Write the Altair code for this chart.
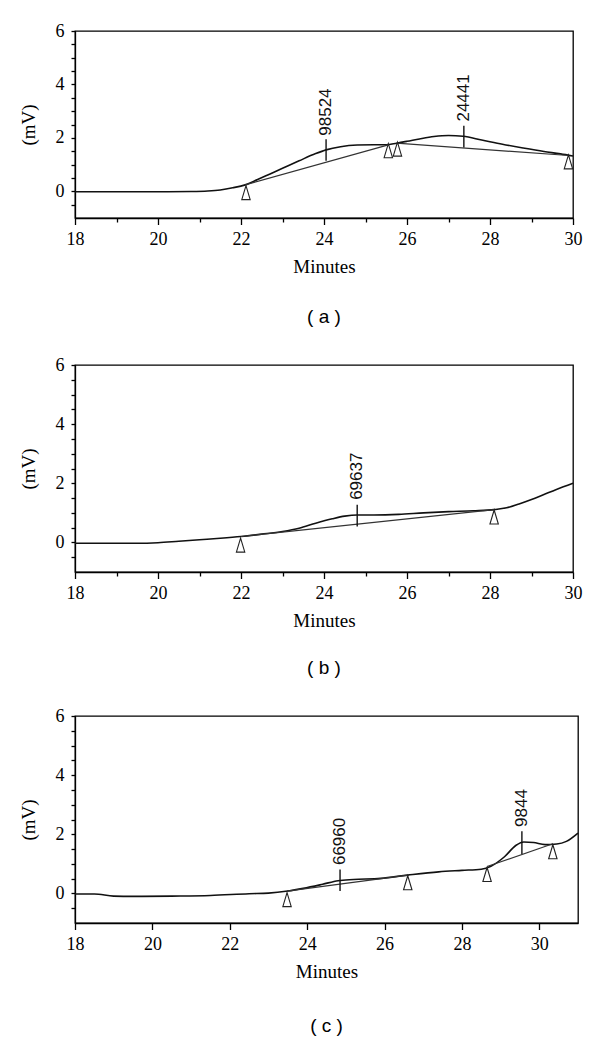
import altair as alt
import pandas as pd

SERIF = "Liberation Serif"
SANS = "Liberation Sans"

# ---------------- panel (a) ----------------
a_time = [18.0, 19.0, 20.0, 20.8, 21.2, 21.5, 21.8, 22.1, 22.4, 22.7, 23.0, 23.4, 23.8, 24.05,
          24.4, 24.8, 25.2, 25.5, 25.75, 26.0, 26.3, 26.65, 27.0, 27.35, 27.8, 28.3, 28.8, 29.3, 29.7, 30.0]
a_signal = [-0.02, -0.02, -0.02, -0.01, 0.01, 0.05, 0.13, 0.24, 0.44, 0.65, 0.86, 1.14, 1.41, 1.55,
            1.67, 1.73, 1.74, 1.74, 1.80, 1.87, 1.96, 2.05, 2.09, 2.06, 1.92, 1.76, 1.62, 1.49, 1.40, 1.32]
a_base_t1 = [22.1, 25.75]
a_base_y1 = [0.24, 1.80]
a_base_t2 = [25.55, 29.9]
a_base_y2 = [1.74, 1.34]
a_tri_t = [22.12, 25.55, 25.77, 29.89]
a_tri_y = [-0.05, 1.52, 1.58, 1.10]
a_pk_t = [24.05, 27.37]
a_pk_lo = [1.14, 1.64]
a_pk_hi = [1.95, 2.45]
a_pk_ty = [2.08, 2.61]
a_pk_lab = ["98524", "24441"]

# ---------------- panel (b) ----------------
b_time = [18.0, 19.0, 19.5, 20.0, 20.5, 21.0, 21.5, 22.0, 22.5, 23.0, 23.4, 23.8, 24.2, 24.5, 24.8,
          25.2, 25.8, 26.4, 27.0, 27.6, 28.1, 28.4, 28.7, 29.0, 29.3, 29.6, 30.0]
b_signal = [-0.03, -0.03, -0.03, -0.01, 0.04, 0.09, 0.14, 0.20, 0.28, 0.37, 0.48, 0.65, 0.80, 0.89, 0.93,
            0.93, 0.95, 1.00, 1.04, 1.07, 1.11, 1.17, 1.30, 1.45, 1.62, 1.79, 2.00]
b_base_t1 = [22.0]
b_base_y1 = [0.20]
b_base_t2 = [28.1]
b_base_y2 = [1.11]
b_tri_t = [21.99, 28.1]
b_tri_y = [-0.09, 0.86]
b_pk_t = [24.8]
b_pk_lo = [0.54]
b_pk_hi = [1.27]
b_pk_ty = [1.44]
b_pk_lab = ["69637"]

# ---------------- panel (c) ----------------
c_time = [18.0, 18.5, 19.0, 19.5, 20.5, 21.5, 22.5, 23.0, 23.5, 23.9, 24.4, 24.8, 25.2, 25.9, 26.6,
          27.4, 28.0, 28.5, 28.75, 29.1, 29.4, 29.6, 29.85, 30.15, 30.45, 30.7, 31.0]
c_signal = [-0.02, -0.02, -0.09, -0.10, -0.09, -0.07, -0.01, 0.01, 0.08, 0.17, 0.31, 0.43, 0.47, 0.51, 0.62,
            0.73, 0.78, 0.82, 0.92, 1.24, 1.63, 1.74, 1.72, 1.65, 1.67, 1.76, 2.04]
c_base_t1 = [23.48, 28.65]
c_base_y1 = [0.08, 0.91]
c_base_t2 = [26.6, 30.35]
c_base_y2 = [0.62, 1.68]
c_tri_t = [23.48, 26.6, 28.65, 30.35]
c_tri_y = [-0.21, 0.36, 0.64, 1.41]
c_pk_t = [24.85, 29.55]
c_pk_lo = [0.08, 1.33]
c_pk_hi = [0.81, 2.10]
c_pk_ty = [0.96, 2.25]
c_pk_lab = ["66960", "9844"]

# ---------------- axis ticks ----------------
x_ticks_30 = [18, 18.5, 19, 19.5, 20, 20.5, 21, 21.5, 22, 22.5, 23, 23.5, 24, 24.5, 25, 25.5,
              26, 26.5, 27, 27.5, 28, 28.5, 29, 29.5, 30]
x_ticks_31 = x_ticks_30 + [30.5, 31]
y_ticks = [-0.5, 0, 0.5, 1, 1.5, 2, 2.5, 3, 3.5, 4, 4.5, 5, 5.5, 6]

TRI = "M0,-1L0.6,1L-0.6,1Z"
EVEN = "datum.value % 2 === 0"


def panel(time, signal, bt1, by1, bt2, by2, tt, ty, pt, plo, phi, pty, plab,
          xmax, xticks, w, h, label, title_offset):
    xs = alt.Scale(domain=[18, xmax], nice=False, zero=False)
    ys = alt.Scale(domain=[-1, 6], nice=False, zero=False)
    xaxis = alt.Axis(values=xticks, labelExpr=EVEN + " ? '' + datum.value : ''",
                     title="Minutes", tickSize={"condition": {"test": EVEN, "value": 6.5}, "value": 4},
                     labelFont=SERIF, labelFontSize=18, titleFont=SERIF, titleFontSize=19,
                     labelPadding=6, titlePadding=9, labelFlush=False, labelOverlap=False)
    yaxis = alt.Axis(values=y_ticks, labelExpr=EVEN + " ? '' + datum.value : ''",
                     title="(mV)", tickSize=4, tickCount=len(y_ticks),
                     labelFont=SERIF, labelFontSize=18, titleFont=SERIF, titleFontSize=19,
                     labelPadding=7, titlePadding=17, labelFlush=False, labelOverlap=False)

    curve = pd.DataFrame({"t": time, "v": signal})
    base = pd.DataFrame({"t": bt1, "v": by1, "t2": bt2, "v2": by2})
    tri = pd.DataFrame({"t": tt, "v": ty})
    pk = pd.DataFrame({"t": pt, "v": plo, "v2": phi})
    lab = pd.DataFrame({"t": pt, "v": pty, "lab": plab})

    X = alt.X("t:Q", scale=xs)
    Y = alt.Y("v:Q", scale=ys)

    line = alt.Chart(curve).mark_line(interpolate="monotone", color="#111111", strokeWidth=1.6).encode(
        x=alt.X("t:Q", scale=xs, axis=xaxis),
        y=alt.Y("v:Q", scale=ys, axis=yaxis),
    )
    bl = alt.Chart(base).mark_rule(color="#333333", strokeWidth=1.2).encode(
        x=X, y=Y, x2="t2:Q", y2="v2:Q",
    )
    tris = alt.Chart(tri).mark_point(shape=TRI, size=196, filled=True, fill="white",
                                     stroke="#222222", strokeWidth=1.1, opacity=1).encode(x=X, y=Y)
    ticks = alt.Chart(pk).mark_rule(color="#111111", strokeWidth=1.4).encode(x=X, y=Y, y2="v2:Q")
    txt = alt.Chart(lab).mark_text(angle=270, align="left", baseline="middle", font=SANS,
                                   fontSize=17, color="#111111").encode(x=X, y=Y, text="lab:N")
    return alt.layer(line, bl, tris, ticks, txt).properties(
        width=w, height=h,
        title=alt.TitleParams(label, orient="bottom", font=SANS, fontSize=19, fontWeight="normal",
                              frame="group", anchor="middle", offset=title_offset, color="black"),
    )


pa = panel(a_time, a_signal, a_base_t1, a_base_y1, a_base_t2, a_base_y2, a_tri_t, a_tri_y,
           a_pk_t, a_pk_lo, a_pk_hi, a_pk_ty, a_pk_lab, 30, x_ticks_30, 498, 187, "( a )", 31)
pb = panel(b_time, b_signal, b_base_t1, b_base_y1, b_base_t2, b_base_y2, b_tri_t, b_tri_y,
           b_pk_t, b_pk_lo, b_pk_hi, b_pk_ty, b_pk_lab, 30, x_ticks_30, 498, 207, "( b )", 28)
pc = panel(c_time, c_signal, c_base_t1, c_base_y1, c_base_t2, c_base_y2, c_tri_t, c_tri_y,
           c_pk_t, c_pk_lo, c_pk_hi, c_pk_ty, c_pk_lab, 31, x_ticks_31, 503, 207, "( c )", 35)

chart = alt.vconcat(pa, pb, pc, spacing=27).properties(
    padding={"left": 10, "top": 13, "right": 5, "bottom": 5}
).configure_view(stroke="black", strokeWidth=1.3).configure_axis(
    grid=False, domainColor="black", domainWidth=1.3, tickColor="black", tickWidth=1.3,
    labelFont=SERIF, labelFontSize=18, labelColor="black",
    titleFont=SERIF, titleFontSize=19, titleFontWeight="normal", titleColor="black",
)

chart.save("out.html", embed_options={"renderer": "svg", "actions": False})
